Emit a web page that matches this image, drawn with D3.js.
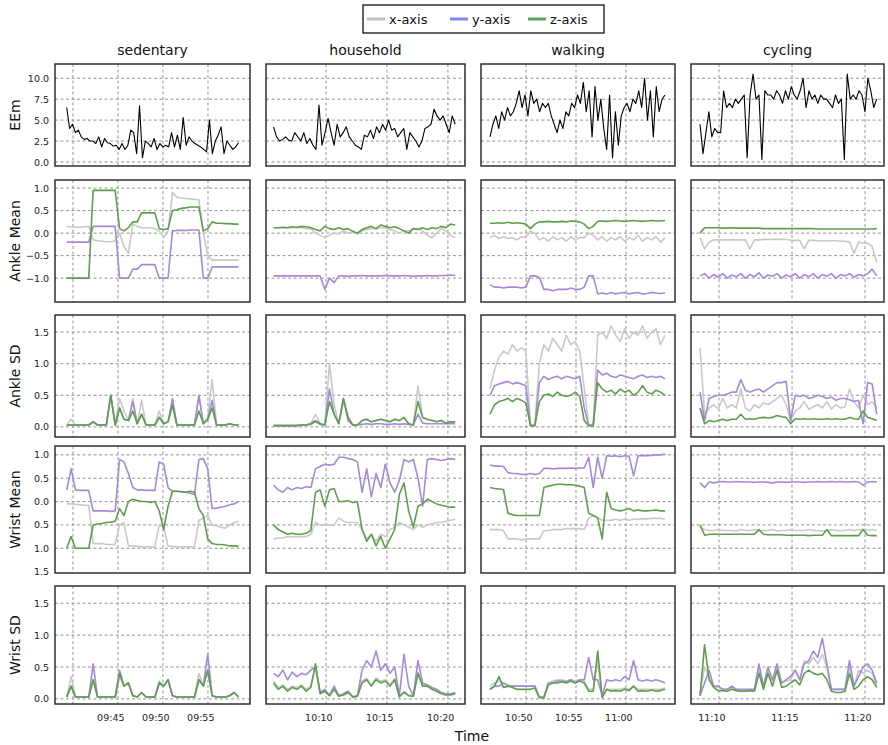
<!DOCTYPE html>
<html>
<head>
<meta charset="utf-8">
<script src="https://cdn.jsdelivr.net/npm/d3@7"></script>
<style>
body { margin: 0; background: #fff; }
svg { font-family: "DejaVu Sans", sans-serif; }
</style>
</head>
<body>
<div id="chart"></div>
<script>
// activities and their time windows (minutes since midnight)
let activities = ['sedentary', 'household', 'walking', 'cycling'];
let domainStart = [9 * 60 + 38, 10 * 60 + 5.08, 10 * 60 + 45.5, 11 * 60 + 8.08];
let domainEnd = [9 * 60 + 59.67, 10 * 60 + 21.4, 11 * 60 + 4.9, 11 * 60 + 21.3];
let dataStart = [9 * 60 + 39.3, 10 * 60 + 5.7, 10 * 60 + 46.4, 11 * 60 + 8.7];
let dataEnd = [9 * 60 + 58.4, 10 * 60 + 20.6, 11 * 60 + 3.9, 11 * 60 + 20.8];
let gridTicks = [[580, 585, 590, 595], [610, 615, 620], [650, 655, 660], [670, 675, 680]];
let labelTicks = [[585, 590, 595], [610, 615, 620], [650, 655, 660], [670, 675, 680]];

let rowNames = ['EEm', 'Ankle Mean', 'Ankle SD', 'Wrist Mean', 'Wrist SD'];
let eemTicks = [0, 2.5, 5, 7.5, 10];
let ankleMeanTicks = [-1, -0.5, 0, 0.5, 1];
let sdTicks = [0, 0.5, 1, 1.5];
let wristMeanTicks = [-1.5, -1, -0.5, 0, 0.5, 1];

// EEm per activity
let eem = [
  [6.5,4,4.5,3.5,3.8,3,2.7,2.8,2.5,2.5,2.2,3,1.8,2.8,2.3,2.2,1.9,2.0,1.5,2.2,1.5,2.0,3.8,3.5,1.0,6.7,0.5,2.5,2.2,1.8,2.8,1.5,2.2,1.8,2.0,1.8,3.5,1.8,3.2,1.5,5.3,2.0,3.0,2.5,2.2,2.0,1.8,1.5,1.2,5.0,1.0,2.5,3.2,4.2,1.0,2.5,2.0,1.5,1.8,2.3],
  [4.2,3,2.5,2.7,3.0,2.6,2.5,3.5,3.0,2.5,3.5,2.2,2.8,2,1.5,6.8,2.0,3.5,5.2,3.5,2.0,4.5,3.0,3.5,4.2,3.0,2.5,2.0,1.8,1.5,3.2,3.0,3.8,2.8,4.2,3.5,4.5,3.8,5.0,3.8,4.0,3.0,3.5,4.0,1.5,3.5,3.0,2.5,1.8,2.5,4.0,4.2,4.5,6.3,5.5,5.0,5.5,4.5,3.5,5.5,4.5],
  [3.0,4.5,5.5,4.0,6.0,5.0,6.5,5.5,6.0,7.0,8.5,6.5,8.0,5.5,8.5,7.0,7.5,6.0,7.0,6.5,7.0,5.5,4.5,3.5,5.0,4.0,6.0,5.5,7.0,6.5,8.0,7.0,9.5,6.0,8.5,3.0,9.0,5.0,7.5,4.0,1.5,8.0,0.5,6.0,2.0,5.5,6.5,7.0,6.0,7.5,7.0,8.5,6.5,10.0,5.0,8.5,3.0,9.0,6.0,7.5,8.0],
  [4.5,1.0,3.5,6.0,3.0,4.0,3.5,3.5,8.5,6.5,7.0,6.5,7.5,7.0,7.5,8.0,0.5,8.0,10.5,7.5,8.0,0.3,8.5,8.0,8.0,7.5,8.5,8.0,7.0,8.5,7.5,9.0,8.0,7.5,8.5,10.0,6.5,8.5,7.5,8.0,7.0,8.0,7.5,7.5,7.0,6.5,8.0,7.0,7.5,0.3,10.5,7.5,8.0,7.5,8.5,8.0,6.0,10.0,8.5,6.5,7.5]
];

// Ankle mean [x, y, z] per activity
let ankleMeanX = [
  [0.15,0.14,0.13,0.13,0.14,0.15,-0.15,-0.17,-0.18,-0.19,-0.19,-0.17,0.0,-0.3,-0.45,0.2,0.15,0.12,0.12,0.12,0.1,0.05,-0.1,0.05,0.9,0.8,0.78,0.77,0.76,0.75,0.74,0.0,-0.5,-0.6,-0.6,-0.6,-0.6,-0.6,-0.6,-0.6],
  [0.12,0.12,0.12,0.12,0.12,0.12,0.12,0.1,0.1,0.0,-0.05,-0.1,-0.05,0.0,-0.02,0.05,0.0,0.02,-0.02,0.05,0.08,0.1,0.1,0.12,0.12,0.08,0.05,0.0,0.05,0.05,0.1,0.1,0.05,-0.05,-0.1,0.0,0.1,0.05,-0.05,-0.1],
  [-0.1,-0.05,-0.12,-0.08,-0.12,-0.1,-0.15,-0.08,-0.1,0.05,0.0,-0.15,-0.1,-0.18,-0.08,-0.15,-0.1,-0.18,-0.08,-0.15,-0.1,-0.1,0.0,-0.05,-0.15,-0.08,-0.18,-0.1,-0.15,-0.08,-0.18,-0.1,-0.15,-0.05,-0.18,-0.1,-0.15,-0.08,-0.2,-0.1],
  [-0.1,-0.35,-0.2,-0.15,-0.15,-0.15,-0.15,-0.15,-0.15,-0.15,-0.15,-0.35,-0.15,-0.15,-0.14,-0.14,-0.14,-0.14,-0.14,-0.14,-0.16,-0.16,-0.16,-0.35,-0.16,-0.16,-0.17,-0.17,-0.17,-0.17,-0.17,-0.18,-0.18,-0.2,-0.45,-0.2,-0.22,-0.22,-0.3,-0.65]
];
let ankleMeanY = [
  [-0.2,-0.2,-0.2,-0.2,-0.2,-0.2,0.15,0.15,0.15,0.15,0.15,0.15,-1,-1,-1,-0.8,-0.8,-0.7,-0.7,-0.7,-0.7,-1,-1,-1,0.05,0.06,0.06,0.06,0.07,0.07,0.07,-1,-1,-0.75,-0.75,-0.75,-0.75,-0.75,-0.75,-0.75],
  [-0.95,-0.95,-0.95,-0.95,-0.95,-0.95,-0.95,-0.95,-0.95,-0.95,-0.95,-1.25,-1.0,-1.1,-0.95,-0.95,-0.96,-0.95,-0.95,-0.94,-0.95,-0.95,-0.95,-0.95,-0.94,-0.95,-0.95,-0.95,-0.94,-0.95,-0.96,-0.95,-0.95,-0.94,-0.95,-0.95,-0.94,-0.94,-0.93,-0.94],
  [-1.15,-1.2,-1.2,-1.22,-1.2,-1.2,-1.2,-1.22,-1.2,-0.95,-0.95,-0.98,-1.25,-1.25,-1.28,-1.25,-1.25,-1.25,-1.22,-1.25,-1.25,-1.2,-0.95,-0.95,-1.35,-1.33,-1.35,-1.32,-1.35,-1.33,-1.32,-1.35,-1.33,-1.32,-1.35,-1.34,-1.32,-1.33,-1.34,-1.33],
  [-0.95,-0.9,-1.0,-0.92,-0.98,-0.9,-1.0,-0.93,-0.97,-0.9,-1.0,-0.92,-0.97,-0.88,-1.0,-0.93,-0.96,-0.9,-1.0,-0.93,-0.97,-0.9,-1.0,-0.92,-0.97,-0.9,-1.0,-0.92,-0.96,-0.9,-1.0,-0.92,-0.95,-0.9,-0.98,-0.92,-0.95,-0.9,-0.8,-0.95]
];
let ankleMeanZ = [
  [-1,-1,-1,-1,-1,-1,0.95,0.95,0.95,0.95,0.95,0.95,0.1,0.05,0.12,0.25,0.25,0.45,0.45,0.45,0.45,0.1,0.08,0.1,0.5,0.52,0.55,0.56,0.58,0.58,0.58,0.05,0.1,0.25,0.22,0.22,0.21,0.21,0.2,0.2],
  [0.12,0.12,0.13,0.12,0.14,0.13,0.15,0.14,0.12,0.08,0.05,0.15,0.1,0.08,0.12,0.08,0.1,0.04,0.0,0.08,0.12,0.15,0.1,0.18,0.15,0.12,0.14,0.1,0.05,0.0,0.1,0.08,0.12,0.08,0.12,0.1,0.15,0.12,0.2,0.18],
  [0.22,0.22,0.23,0.22,0.24,0.22,0.23,0.22,0.2,0.1,0.2,0.25,0.25,0.26,0.25,0.25,0.26,0.25,0.27,0.26,0.25,0.2,0.1,0.15,0.26,0.27,0.26,0.27,0.28,0.27,0.26,0.27,0.28,0.27,0.26,0.27,0.28,0.27,0.27,0.28],
  [0.0,0.12,0.12,0.12,0.12,0.11,0.11,0.12,0.11,0.11,0.11,0.11,0.11,0.11,0.1,0.1,0.1,0.1,0.1,0.1,0.1,0.1,0.1,0.1,0.1,0.1,0.09,0.09,0.09,0.09,0.09,0.09,0.09,0.09,0.09,0.09,0.09,0.09,0.09,0.1]
];

// Ankle SD
let ankleSdX = [
  [0.03,0.12,0.03,0.03,0.03,0.03,0.08,0.03,0.03,0.03,0.5,0.03,0.45,0.25,0.1,0.45,0.05,0.42,0.03,0.03,0.03,0.25,0.05,0.08,0.35,0.03,0.03,0.03,0.03,0.03,0.5,0.05,0.15,0.75,0.03,0.03,0.03,0.05,0.03,0.03],
  [0.02,0.02,0.02,0.02,0.02,0.02,0.03,0.03,0.05,0.2,0.05,0.03,1.0,0.35,0.05,0.4,0.15,0.03,0.03,0.1,0.12,0.08,0.1,0.12,0.1,0.08,0.12,0.1,0.15,0.05,0.03,0.65,0.15,0.12,0.1,0.08,0.1,0.06,0.08,0.08],
  [0.6,0.9,1.1,1.2,1.15,1.3,1.2,1.25,1.2,0.05,0.02,1.0,1.3,1.2,1.4,1.3,1.2,1.45,1.3,1.35,1.2,0.6,0.02,0.05,1.45,1.5,1.4,1.6,1.45,1.35,1.55,1.4,1.5,1.45,1.6,1.4,1.5,1.55,1.3,1.45],
  [1.25,0.2,0.3,0.35,0.28,0.45,0.3,0.35,0.3,0.6,0.3,0.25,0.35,0.3,0.38,0.35,0.4,0.45,0.5,0.35,0.1,0.25,0.3,0.4,0.28,0.32,0.35,0.3,0.4,0.28,0.35,0.3,0.32,0.6,0.4,0.3,0.5,0.35,0.4,0.3]
];
let ankleSdY = [
  [0.03,0.03,0.03,0.03,0.03,0.03,0.08,0.03,0.03,0.03,0.5,0.03,0.3,0.12,0.1,0.4,0.05,0.2,0.03,0.03,0.03,0.15,0.05,0.08,0.45,0.03,0.03,0.03,0.03,0.03,0.5,0.05,0.12,0.42,0.03,0.03,0.03,0.05,0.03,0.03],
  [0.02,0.02,0.02,0.02,0.02,0.02,0.03,0.03,0.04,0.08,0.04,0.03,0.6,0.2,0.05,0.45,0.1,0.03,0.03,0.04,0.05,0.04,0.05,0.05,0.04,0.04,0.05,0.04,0.05,0.04,0.03,0.2,0.06,0.05,0.05,0.05,0.05,0.05,0.05,0.05],
  [0.5,0.65,0.68,0.7,0.72,0.68,0.7,0.68,0.65,0.02,0.02,0.7,0.8,0.75,0.78,0.8,0.76,0.8,0.78,0.76,0.8,0.3,0.02,0.02,0.9,0.82,0.85,0.8,0.78,0.82,0.8,0.78,0.76,0.8,0.82,0.78,0.8,0.78,0.8,0.76],
  [0.55,0.1,0.45,0.48,0.5,0.5,0.52,0.55,0.55,0.75,0.58,0.55,0.58,0.6,0.55,0.6,0.65,0.7,0.7,0.72,0.1,0.5,0.48,0.5,0.45,0.47,0.5,0.48,0.45,0.47,0.42,0.45,0.45,0.43,0.4,0.42,0.05,0.7,0.68,0.2]
];
let ankleSdZ = [
  [0.03,0.03,0.03,0.03,0.03,0.03,0.08,0.03,0.03,0.03,0.5,0.03,0.3,0.12,0.1,0.25,0.05,0.2,0.03,0.03,0.03,0.15,0.05,0.08,0.35,0.03,0.03,0.03,0.03,0.03,0.25,0.05,0.12,0.3,0.03,0.03,0.03,0.05,0.03,0.03],
  [0.02,0.02,0.02,0.02,0.02,0.02,0.03,0.03,0.05,0.1,0.05,0.03,0.4,0.2,0.05,0.45,0.15,0.03,0.03,0.1,0.12,0.08,0.1,0.12,0.1,0.08,0.12,0.1,0.15,0.05,0.03,0.4,0.15,0.12,0.1,0.08,0.1,0.06,0.08,0.08],
  [0.2,0.35,0.4,0.42,0.45,0.4,0.45,0.42,0.38,0.02,0.02,0.4,0.5,0.52,0.48,0.55,0.5,0.48,0.5,0.55,0.48,0.1,0.02,0.02,0.7,0.6,0.55,0.58,0.52,0.6,0.55,0.58,0.5,0.55,0.65,0.55,0.52,0.58,0.55,0.5],
  [0.3,0.05,0.1,0.08,0.1,0.12,0.1,0.12,0.12,0.2,0.12,0.13,0.12,0.14,0.15,0.14,0.15,0.18,0.16,0.15,0.05,0.13,0.12,0.13,0.12,0.13,0.12,0.12,0.13,0.12,0.13,0.12,0.12,0.15,0.13,0.12,0.25,0.15,0.13,0.1]
];

// Wrist mean
let wristMeanX = [
  [-0.05,-0.05,-0.06,-0.07,-0.08,-0.08,-0.9,-0.9,-0.9,-0.92,-0.92,-0.92,-0.5,-0.45,-0.95,-0.95,-0.96,-0.97,-0.97,-0.97,-0.97,-0.5,-0.55,-0.95,-0.96,-0.97,-0.97,-0.97,-0.97,-0.97,-0.4,-0.35,-0.3,-0.5,-0.52,-0.55,-0.57,-0.5,-0.45,-0.42],
  [-0.8,-0.78,-0.78,-0.75,-0.75,-0.75,-0.75,-0.75,-0.7,-0.45,-0.5,-0.5,-0.5,-0.5,-0.35,-0.42,-0.45,-0.45,-0.45,-0.6,-0.8,-0.7,-0.85,-0.7,-0.75,-0.6,-0.55,-0.45,-0.5,-0.55,-0.6,-0.5,-0.55,-0.5,-0.48,-0.45,-0.45,-0.42,-0.4,-0.38],
  [-0.6,-0.6,-0.6,-0.62,-0.8,-0.8,-0.8,-0.82,-0.8,-0.8,-0.8,-0.8,-0.62,-0.62,-0.6,-0.6,-0.6,-0.58,-0.58,-0.58,-0.58,-0.6,-0.35,-0.3,-0.35,-0.4,-0.4,-0.4,-0.38,-0.4,-0.38,-0.4,-0.38,-0.38,-0.37,-0.37,-0.36,-0.36,-0.36,-0.38],
  [-0.55,-0.6,-0.62,-0.62,-0.6,-0.62,-0.62,-0.62,-0.63,-0.6,-0.62,-0.62,-0.6,-0.62,-0.62,-0.62,-0.6,-0.63,-0.62,-0.62,-0.6,-0.62,-0.62,-0.62,-0.6,-0.62,-0.62,-0.63,-0.62,-0.6,-0.62,-0.62,-0.62,-0.6,-0.62,-0.6,-0.6,-0.62,-0.6,-0.62]
];
let wristMeanY = [
  [0.25,0.7,0.25,0.24,0.24,0.24,-0.2,-0.2,-0.2,-0.2,-0.21,-0.2,0.9,0.85,0.6,0.3,0.25,0.25,0.24,0.24,0.24,0.85,0.8,0.3,0.22,0.22,0.21,0.2,0.18,0.15,0.9,0.92,0.7,-0.15,-0.14,-0.12,-0.1,-0.07,-0.05,0.0],
  [0.35,0.25,0.2,0.3,0.25,0.3,0.28,0.32,0.3,0.7,0.75,0.8,0.78,0.8,0.95,0.95,0.92,0.9,0.85,0.2,0.7,0.1,0.6,0.3,0.8,0.4,0.2,0.45,0.9,0.85,0.9,0.5,-0.1,0.9,0.92,0.9,0.88,0.9,0.92,0.9],
  [0.78,0.76,0.76,0.75,0.62,0.6,0.6,0.58,0.58,0.6,0.58,0.6,0.71,0.71,0.7,0.71,0.71,0.71,0.72,0.71,0.72,0.72,0.95,0.3,0.95,0.5,0.98,0.97,0.98,0.96,0.98,0.97,0.55,0.98,0.99,0.98,0.99,1.0,1.0,1.02],
  [0.4,0.3,0.42,0.4,0.42,0.43,0.42,0.42,0.43,0.42,0.42,0.42,0.41,0.42,0.42,0.41,0.4,0.42,0.42,0.41,0.42,0.42,0.42,0.41,0.42,0.42,0.43,0.42,0.42,0.43,0.42,0.43,0.42,0.42,0.43,0.42,0.35,0.42,0.43,0.42]
];
let wristMeanZ = [
  [-1,-0.75,-1,-1,-1,-1,-0.5,-0.48,-0.47,-0.45,-0.44,-0.42,-0.15,-0.3,0.0,0.05,0.02,0.0,0.0,-0.02,0.0,-0.2,-0.6,-0.1,0.22,0.22,0.21,0.2,0.22,0.2,-0.15,-0.3,-0.8,-0.9,-0.92,-0.92,-0.93,-0.95,-0.95,-0.96],
  [-0.5,-0.6,-0.65,-0.7,-0.68,-0.7,-0.7,-0.68,-0.62,0.2,0.25,-0.1,0.25,0.28,0.0,0.0,0.02,-0.02,0.0,-0.6,-0.85,-0.7,-0.95,-0.75,-1.0,-0.8,-0.6,0.15,0.4,-0.2,-0.55,-0.1,-0.05,0.05,0.0,-0.05,-0.08,-0.1,-0.12,-0.12],
  [0.3,0.28,0.27,0.26,-0.25,-0.28,-0.3,-0.3,-0.3,-0.3,-0.3,-0.3,0.3,0.33,0.35,0.37,0.37,0.36,0.36,0.35,0.33,0.3,-0.25,-0.3,-0.35,-0.8,0.2,-0.15,-0.18,-0.2,-0.18,-0.15,-0.2,-0.18,-0.2,-0.2,-0.19,-0.18,-0.2,-0.2],
  [-0.5,-0.72,-0.7,-0.7,-0.7,-0.7,-0.7,-0.7,-0.7,-0.7,-0.7,-0.7,-0.7,-0.6,-0.7,-0.71,-0.71,-0.71,-0.71,-0.72,-0.72,-0.72,-0.72,-0.72,-0.73,-0.72,-0.72,-0.72,-0.6,-0.73,-0.73,-0.73,-0.73,-0.73,-0.73,-0.73,-0.6,-0.72,-0.73,-0.73]
];

// Wrist SD
let wristSdX = [
  [0.03,0.35,0.03,0.03,0.03,0.03,0.3,0.03,0.03,0.03,0.03,0.03,0.35,0.2,0.25,0.05,0.03,0.1,0.03,0.03,0.03,0.28,0.2,0.3,0.05,0.03,0.03,0.03,0.03,0.03,0.4,0.2,0.45,0.05,0.03,0.03,0.03,0.05,0.1,0.03],
  [0.28,0.18,0.22,0.15,0.2,0.18,0.22,0.15,0.2,0.5,0.1,0.14,0.06,0.17,0.05,0.07,0.12,0.04,0.05,0.28,0.32,0.22,0.33,0.28,0.3,0.22,0.32,0.04,0.12,0.06,0.05,0.42,0.22,0.22,0.17,0.14,0.1,0.07,0.07,0.09],
  [0.2,0.25,0.28,0.25,0.22,0.2,0.2,0.2,0.2,0.2,0.2,0.03,0.02,0.25,0.28,0.3,0.3,0.28,0.3,0.28,0.3,0.28,0.15,0.15,0.6,0.03,0.15,0.15,0.15,0.15,0.17,0.15,0.2,0.15,0.15,0.15,0.15,0.15,0.15,0.17],
  [0.1,0.5,0.35,0.2,0.18,0.15,0.15,0.18,0.15,0.14,0.14,0.14,0.14,0.45,0.2,0.45,0.28,0.5,0.25,0.28,0.3,0.45,0.3,0.6,0.55,0.65,0.55,0.7,0.5,0.15,0.15,0.15,0.15,0.5,0.2,0.45,0.4,0.45,0.4,0.22]
];
let wristSdY = [
  [0.03,0.2,0.03,0.03,0.03,0.03,0.55,0.03,0.03,0.03,0.03,0.03,0.45,0.2,0.25,0.05,0.03,0.1,0.03,0.03,0.03,0.25,0.2,0.3,0.05,0.03,0.03,0.03,0.03,0.03,0.3,0.2,0.7,0.05,0.03,0.03,0.03,0.05,0.1,0.03],
  [0.4,0.35,0.45,0.3,0.42,0.35,0.4,0.38,0.45,0.5,0.1,0.15,0.05,0.2,0.05,0.08,0.12,0.03,0.05,0.45,0.6,0.5,0.75,0.45,0.55,0.4,0.5,0.05,0.7,0.2,0.05,0.6,0.25,0.22,0.18,0.15,0.1,0.08,0.08,0.1],
  [0.15,0.2,0.2,0.25,0.2,0.2,0.2,0.2,0.2,0.2,0.2,0.03,0.02,0.25,0.25,0.28,0.28,0.27,0.3,0.25,0.3,0.3,0.65,0.3,0.3,0.05,0.3,0.28,0.3,0.28,0.35,0.3,0.6,0.3,0.28,0.3,0.28,0.3,0.28,0.25],
  [0.05,0.25,0.45,0.2,0.2,0.15,0.15,0.2,0.15,0.15,0.15,0.15,0.15,0.55,0.2,0.5,0.3,0.55,0.25,0.3,0.35,0.45,0.3,0.55,0.6,0.75,0.65,0.95,0.55,0.15,0.15,0.15,0.15,0.6,0.2,0.35,0.5,0.55,0.45,0.25]
];
let wristSdZ = [
  [0.03,0.2,0.03,0.03,0.03,0.03,0.3,0.03,0.03,0.03,0.03,0.03,0.4,0.2,0.25,0.05,0.03,0.1,0.03,0.03,0.03,0.25,0.2,0.3,0.05,0.03,0.03,0.03,0.03,0.03,0.3,0.2,0.45,0.05,0.03,0.03,0.03,0.05,0.1,0.03],
  [0.25,0.15,0.2,0.12,0.18,0.15,0.2,0.12,0.18,0.55,0.08,0.12,0.05,0.15,0.04,0.06,0.1,0.03,0.04,0.25,0.3,0.2,0.3,0.25,0.28,0.2,0.3,0.03,0.1,0.05,0.04,0.4,0.2,0.2,0.15,0.12,0.08,0.06,0.06,0.08],
  [0.15,0.2,0.35,0.18,0.2,0.18,0.15,0.15,0.15,0.15,0.17,0.02,0.02,0.22,0.25,0.25,0.27,0.25,0.28,0.25,0.28,0.25,0.12,0.12,0.75,0.02,0.15,0.12,0.13,0.12,0.15,0.13,0.2,0.12,0.13,0.12,0.14,0.12,0.13,0.15],
  [0.05,0.85,0.3,0.18,0.13,0.13,0.12,0.15,0.13,0.12,0.12,0.13,0.12,0.4,0.15,0.4,0.2,0.45,0.18,0.2,0.25,0.3,0.22,0.4,0.45,0.4,0.38,0.4,0.3,0.12,0.1,0.1,0.12,0.4,0.15,0.2,0.3,0.35,0.3,0.18]
];

let axisColors = {x: '#c9c9c9', y: '#a48ad8', z: '#5f9e4e'};
let legendColors = {x: '#c0c0c0', y: '#8484ee', z: '#5aa55a'};

// layout
let colLeft = [55, 266, 481, 691];
let colRight = [250, 465, 675, 884];
let rowTop = [64, 180, 315, 446, 586];
let rowBottom = [166, 302, 437, 573, 704];

let rows = [
  {domain: [-0.48, 11.7], ticks: eemTicks, fmt: d3.format('.1f'), series: [{data: eem, color: '#000', w: 1.1}]},
  {domain: [-1.53, 1.18], ticks: ankleMeanTicks, fmt: d3.format('.1f'), series: [
    {data: ankleMeanX, color: axisColors.x, w: 1.6}, {data: ankleMeanY, color: axisColors.y, w: 1.6}, {data: ankleMeanZ, color: axisColors.z, w: 1.6}]},
  {domain: [-0.16, 1.77], ticks: sdTicks, fmt: d3.format('.1f'), series: [
    {data: ankleSdX, color: axisColors.x, w: 1.6}, {data: ankleSdY, color: axisColors.y, w: 1.6}, {data: ankleSdZ, color: axisColors.z, w: 1.6}]},
  {domain: [-1.53, 1.19], ticks: wristMeanTicks, fmt: function (d) { return d3.format('.1f')(Math.abs(d)); }, series: [
    {data: wristMeanX, color: axisColors.x, w: 1.6}, {data: wristMeanY, color: axisColors.y, w: 1.6}, {data: wristMeanZ, color: axisColors.z, w: 1.6}]},
  {domain: [-0.08, 1.77], ticks: sdTicks, fmt: d3.format('.1f'), series: [
    {data: wristSdX, color: axisColors.x, w: 1.6}, {data: wristSdY, color: axisColors.y, w: 1.6}, {data: wristSdZ, color: axisColors.z, w: 1.6}]}
];

let svg = d3.select('#chart').append('svg')
    .attr('width', 888)
    .attr('height', 745);

function timeLabel(m) {
  let h = Math.floor(m / 60), mm = Math.round(m % 60);
  return (h < 10 ? '0' : '') + h + ':' + (mm < 10 ? '0' : '') + mm;
}

rows.forEach(function (row, r) {
  let y = d3.scaleLinear().domain(row.domain).range([rowBottom[r], rowTop[r]]);

  activities.forEach(function (act, c) {
    let x = d3.scaleLinear().domain([domainStart[c], domainEnd[c]]).range([colLeft[c], colRight[c]]);
    let g = svg.append('g');

    // grid
    g.selectAll('.hg').data(row.ticks.filter(function (t) { return y(t) > rowTop[r] + 3 && y(t) < rowBottom[r] - 3; }))
      .enter().append('line')
        .attr('x1', colLeft[c]).attr('x2', colRight[c])
        .attr('y1', function (d) { return y(d); }).attr('y2', function (d) { return y(d); })
        .attr('stroke', '#888').attr('stroke-dasharray', '3,2.5').attr('stroke-width', 0.9);
    g.selectAll('.vg').data(gridTicks[c]).enter().append('line')
        .attr('x1', function (d) { return x(d); }).attr('x2', function (d) { return x(d); })
        .attr('y1', rowTop[r]).attr('y2', rowBottom[r])
        .attr('stroke', '#888').attr('stroke-dasharray', '3,2.5').attr('stroke-width', 0.9);

    // lines
    row.series.forEach(function (s) {
      let vals = s.data[c];
      let n = vals.length;
      let line = d3.line()
        .x(function (d, i) { return x(dataStart[c] + (dataEnd[c] - dataStart[c]) * i / (n - 1)); })
        .y(function (d) { return y(d); });
      g.append('path').datum(vals)
        .attr('d', line).attr('fill', 'none')
        .attr('stroke', s.color).attr('stroke-width', s.w)
        .attr('stroke-linejoin', 'round');
    });

    // frame
    g.append('rect')
      .attr('x', colLeft[c]).attr('y', rowTop[r])
      .attr('width', colRight[c] - colLeft[c]).attr('height', rowBottom[r] - rowTop[r])
      .attr('fill', 'none').attr('stroke', '#222').attr('stroke-width', 1.4);

    // y axis on first column
    if (c === 0) {
      let ya = d3.axisLeft(y).tickValues(row.ticks).tickFormat(row.fmt).tickSize(0).tickPadding(6);
      let ag = g.append('g').attr('transform', 'translate(' + colLeft[c] + ',0)').call(ya);
      ag.select('.domain').remove();
      ag.selectAll('text').attr('font-size', 9.5).attr('fill', '#222').attr('font-family', '"DejaVu Sans", sans-serif');
      svg.append('text')
        .attr('transform', 'translate(20,' + ((rowTop[r] + rowBottom[r]) / 2) + ') rotate(-90)')
        .attr('text-anchor', 'middle').attr('font-size', 14).attr('fill', '#111')
        .text(rowNames[r]);
    }

    if (r === 0) {
      svg.append('text')
        .attr('x', (colLeft[c] + colRight[c]) / 2).attr('y', 55)
        .attr('text-anchor', 'middle').attr('font-size', 14).attr('fill', '#111')
        .text(act);
    }

    // time axis on last row
    if (r === rows.length - 1) {
      let xa = d3.axisBottom(x).tickValues(labelTicks[c]).tickFormat(timeLabel).tickSize(0).tickPadding(10);
      let xg = g.append('g').attr('transform', 'translate(0,' + rowBottom[r] + ')').call(xa);
      xg.select('.domain').remove();
      xg.selectAll('text').attr('font-size', 9.5).attr('fill', '#222')
        .attr('text-anchor', 'end').attr('dx', 6).attr('font-family', '"DejaVu Sans", sans-serif');
    }
  });
});

svg.append('text').attr('x', 472).attr('y', 741)
  .attr('text-anchor', 'middle').attr('font-size', 14).attr('fill', '#111').text('Time');

// legend
let legend = svg.append('g');
legend.append('rect').attr('x', 363).attr('y', 5).attr('width', 241).attr('height', 28)
  .attr('fill', '#fff').attr('stroke', '#111').attr('stroke-width', 1.3);
let legendItems = [['x-axis', legendColors.x, 367], ['y-axis', legendColors.y, 450], ['z-axis', legendColors.z, 528]];
legendItems.forEach(function (it) {
  legend.append('line').attr('x1', it[2]).attr('x2', it[2] + 18).attr('y1', 19).attr('y2', 19)
    .attr('stroke', it[1]).attr('stroke-width', 3);
  legend.append('text').attr('x', it[2] + 22).attr('y', 24).attr('font-size', 13).attr('fill', '#111').text(it[0]);
});
</script>
</body>
</html>
